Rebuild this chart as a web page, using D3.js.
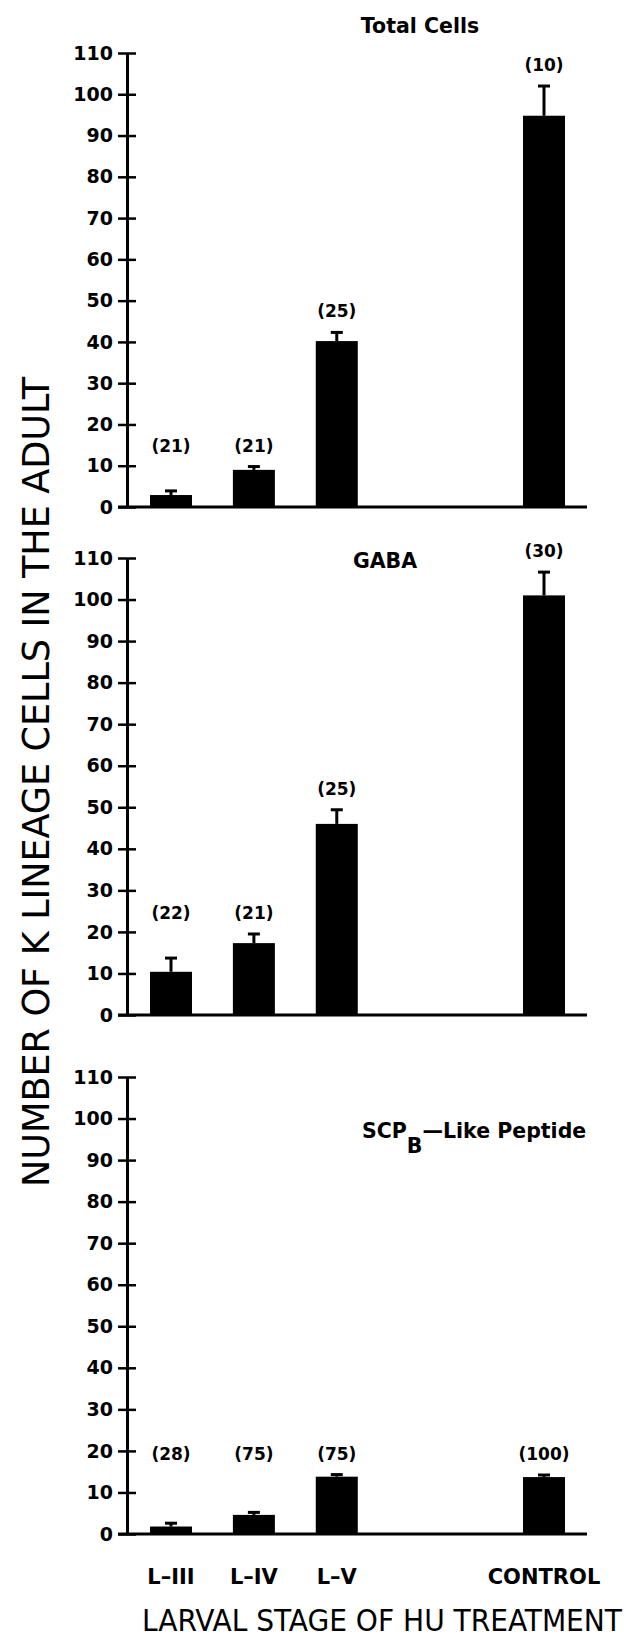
<!DOCTYPE html>
<html>
<head>
<meta charset="utf-8">
<script src="https://cdn.jsdelivr.net/npm/d3@7"></script>
<style>
    body { margin: 0; background: #fff; }
    svg { display: block; }
    .tick text { font-family: "DejaVu Sans", sans-serif; font-weight: bold; font-size: 19px; fill: #000; }
</style>
</head>
<body>
<div id="chart"></div>
<script>
// Number of K lineage cells in the adult, by larval stage of HU treatment

const stages = ['L–III', 'L–IV', 'L–V', 'CONTROL'];
const yTickValues = [0, 10, 20, 30, 40, 50, 60, 70, 80, 90, 100, 110];

const totalMeans  = [2.9, 9.0, 40.2, 94.8];
const totalErrors = [1.0, 0.8, 2.1, 7.2];
const totalN      = [21, 21, 25, 10];

const gabaMeans  = [10.4, 17.3, 46.0, 101.0];
const gabaErrors = [3.3, 2.2, 3.4, 5.6];
const gabaN      = [22, 21, 25, 30];

const scpMeans  = [1.8, 4.6, 13.8, 13.7];
const scpErrors = [0.8, 0.6, 0.5, 0.5];
const scpN      = [28, 75, 75, 100];

const width = 626, height = 1638;
const boldFont = '"DejaVu Sans", "Liberation Sans", sans-serif';
const narrowFont = '"Liberation Sans Narrow", "DejaVu Sans Condensed", "Liberation Sans", sans-serif';

const svg = d3.select('#chart')
    .append('svg')
    .attr('width', width)
    .attr('height', height);

// stage index -> horizontal slot (control sits after a gap)
const slot = i => (i < 3 ? i : 4.5);
const x = d3.scaleLinear().domain([0, 4.5]).range([171, 544]);
const barWidth = 42;
const axisX = 127;

const panels = [
    {means: totalMeans, errors: totalErrors, n: totalN, top: 53, bottom: 507},
    {means: gabaMeans, errors: gabaErrors, n: gabaN, top: 558, bottom: 1015},
    {means: scpMeans, errors: scpErrors, n: scpN, top: 1077, bottom: 1534}
];

panels.forEach(p => {
    const y = d3.scaleLinear().domain([0, 110]).range([p.bottom, p.top]);
    const g = svg.append('g');

    // y axis with ticks crossing the line
    const axis = g.append('g')
        .attr('transform', `translate(${axisX},0)`)
        .call(d3.axisLeft(y).tickValues(yTickValues).tickSize(9).tickSizeOuter(0).tickPadding(5));
    axis.select('.domain').attr('stroke', '#000').attr('stroke-width', 3);
    axis.selectAll('.tick line').attr('x1', 9).attr('x2', -9).attr('stroke', '#000').attr('stroke-width', 2.5);

    // baseline
    g.append('line')
        .attr('x1', axisX - 9).attr('x2', 587)
        .attr('y1', y(0)).attr('y2', y(0))
        .attr('stroke', '#000').attr('stroke-width', 3);

    const rows = stages.map((s, i) => ({
        stage: s,
        cx: x(slot(i)),
        mean: p.means[i],
        cap: p.means[i] + p.errors[i],
        n: p.n[i]
    }));

    // bars
    g.selectAll('.bar').data(rows).enter()
        .append('rect')
        .attr('x', d => d.cx - barWidth / 2)
        .attr('y', d => y(d.mean))
        .attr('width', barWidth)
        .attr('height', d => y(0) - y(d.mean))
        .attr('fill', '#000');

    // error bars (upper only)
    g.selectAll('.err').data(rows).enter()
        .append('line')
        .attr('x1', d => d.cx).attr('x2', d => d.cx)
        .attr('y1', d => y(d.mean)).attr('y2', d => y(d.cap))
        .attr('stroke', '#000').attr('stroke-width', 3);
    g.selectAll('.cap').data(rows).enter()
        .append('line')
        .attr('x1', d => d.cx - 6).attr('x2', d => d.cx + 6)
        .attr('y1', d => y(d.cap)).attr('y2', d => y(d.cap))
        .attr('stroke', '#000').attr('stroke-width', 3);

    // sample sizes; short bars share one label row
    const lowCap = d3.max(rows.filter(d => d.cap < 20), d => d.cap);
    g.selectAll('.n').data(rows).enter()
        .append('text')
        .attr('x', d => d.cx)
        .attr('y', d => y(d.cap < 20 ? lowCap : d.cap) - 15)
        .attr('text-anchor', 'middle')
        .style('font-family', boldFont)
        .style('font-weight', 'bold')
        .style('font-size', '17px')
        .text(d => `(${d.n})`);
});

// panel titles
const titleStyle = sel => sel
    .style('font-family', boldFont)
    .style('font-weight', 'bold')
    .style('font-size', '20.5px');

svg.append('text').attr('x', 420).attr('y', 33).attr('text-anchor', 'middle')
    .call(titleStyle).text('Total Cells');
svg.append('text').attr('x', 385).attr('y', 568).attr('text-anchor', 'middle')
    .call(titleStyle).text('GABA');

const scp = svg.append('text').attr('x', 362).attr('y', 1138).call(titleStyle);
scp.append('tspan').text('SCP');
scp.append('tspan').attr('dy', 15).text('B');
scp.append('tspan').attr('dy', -15).text('—Like Peptide');

// stage labels
svg.selectAll('.stage').data(stages).enter()
    .append('text')
    .attr('x', (d, i) => x(slot(i)))
    .attr('y', 1584)
    .attr('text-anchor', 'middle')
    .style('font-family', boldFont)
    .style('font-weight', 'bold')
    .style('font-size', '21px')
    .text(d => d);

// axis titles
svg.append('text')
    .attr('x', 382).attr('y', 1631)
    .attr('text-anchor', 'middle')
    .attr('textLength', 480)
    .attr('lengthAdjust', 'spacingAndGlyphs')
    .style('font-family', narrowFont)
    .style('font-size', '31px')
    .text('LARVAL STAGE OF HU TREATMENT');

svg.append('text')
    .attr('transform', 'translate(49,782) rotate(-90)')
    .attr('text-anchor', 'middle')
    .attr('textLength', 810)
    .attr('lengthAdjust', 'spacingAndGlyphs')
    .style('font-family', narrowFont)
    .style('font-size', '37px')
    .text('NUMBER OF K LINEAGE CELLS IN THE ADULT');
</script>
</body>
</html>
